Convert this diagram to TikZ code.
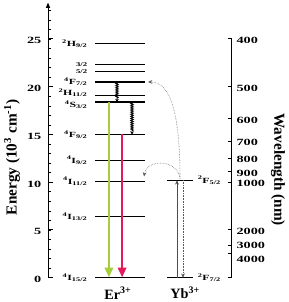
\documentclass[tikz,border=0pt]{standalone}
\usepackage{fontspec}
\setmainfont{Liberation Serif}
\newfontfamily\widefont[FakeStretch=1.5]{Liberation Serif}
\usetikzlibrary{arrows.meta,decorations.pathmorphing}
\definecolor{emgreen}{RGB}{166,206,57}
\definecolor{empink}{RGB}{229,24,90}
\newcommand{\term}[3]{\textsuperscript{#1}#2\textsubscript{#3}}
\begin{document}
\begin{tikzpicture}[x=1cm,y=0.3183cm,
  elev/.style={line width=1.3pt},
  axis/.style={line width=0.9pt},
  lab/.style={font=\widefont\fontsize{7.5}{8}\selectfont\bfseries,inner sep=1pt},
  ticklab/.style={font=\widefont\fontsize{9}{10}\selectfont\bfseries,inner sep=0.5pt},
  axtitle/.style={font=\fontsize{14.5}{16}\selectfont\bfseries,inner sep=0pt},
  ion/.style={font=\fontsize{13.5}{15}\selectfont\bfseries,inner sep=0pt},
  emit/.style={line width=1.6pt,-{Triangle[width=8pt,length=9pt]}},
  relax/.style={line width=0.9pt,decorate,decoration={snake,amplitude=1.1pt,segment length=2pt,post length=3pt},-{Stealth[length=3pt,width=3.5pt]}},
  transfer/.style={gray!70!black,line width=0.5pt,densely dotted,-{Stealth[length=4pt,width=3.5pt]}}]
  \useasboundingbox (0,-2.545) rectangle (9.6,29.08);
  % energy axis
  \draw[axis,-{Triangle[width=4pt,length=5pt]}] (1.6,0) -- (1.6,28.8);
  \foreach \e in {0,...,28}
    \draw[line width=0.5pt] (1.6,\e) -- ++(0.1,0);
  \foreach \e in {0,5,...,25} {
    \draw[axis] (1.6,\e) -- ++(0.15,0);
    \node[ticklab,anchor=east] (E\e) at (1.4,\e-0.2) {\e};
  }
  \node[axtitle,rotate=90] (etitle) at (0.4,12.6) {Energy (10\textsuperscript{3} cm\textsuperscript{-1})};
  % wavelength axis
  \draw[axis] (7.73,0) -- (7.73,25);
  \draw[axis] (7.73,0) -- ++(-0.12,0);
  \foreach \w/\s in {400/0,500/0,600/0,700/0,800/0,900/0,1000/0,2000/0,3000/0.25,4000/-0.45} {
    \pgfmathsetmacro\e{10000/\w}
    \draw[axis] (7.73,\e) -- ++(-0.13,0);
    \node[ticklab,anchor=west] (W\w) at (7.86,\e-0.15+\s) {\w};
  }
  \node[axtitle,rotate=-90] (wtitle) at (9.27,11.3) {Wavelength (nm)};
  % Er levels
  \foreach \e/\s/\t/\n in {24.5/0/{\term{2}{H}{9/2}}/H92, 22.3/0/{\fontsize{5.5}{6}\selectfont 3/2}/F32,
      21.6/0/{\fontsize{5.5}{6}\selectfont 5/2}/F52, 20.5/0/{\term{4}{F}{7/2}}/F72,
      19.1/0.3/{\term{2}{H}{11/2}}/H112, 18.4/-0.25/{\term{4}{S}{3/2}}/S32, 15.0/0/{\term{4}{F}{9/2}}/F92,
      12.3/0/{\term{4}{I}{9/2}}/I92, 10.1/0/{\term{4}{I}{11/2}}/I112, 6.4/0/{\term{4}{I}{13/2}}/I132,
      0/0/{\term{4}{I}{15/2}}/I152} {
    \draw[elev] (3.17,\e) coordinate (\n-l) -- (4.83,\e) coordinate (\n-r);
    \node[lab,anchor=east] (\n) at (2.95,\e+\s) {\t};
  }
  \node[ion] (er) at (3.93,-1.6) {Er\textsuperscript{3+}};
  % Yb levels
  \draw[elev] (5.57,10.2) coordinate (F52b-l) -- (6.43,10.2) coordinate (F52b-r);
  \draw[elev] (5.57,0) coordinate (F72b-l) -- (6.43,0) coordinate (F72b-r);
  \node[lab,anchor=west] (yb52) at (6.55,10.2) {\term{2}{F}{5/2}};
  \node[lab,anchor=west] (yb72) at (6.55,0) {\term{2}{F}{7/2}};
  \node[ion] (yb) at (6.17,-1.6) {Yb\textsuperscript{3+}};
  % transitions
  \coordinate (g1) at (3.63,18.4);
  \coordinate (g0) at (3.63,0.05);
  \coordinate (r1) at (4.07,15.0);
  \coordinate (r0) at (4.07,0.05);
  \draw[emit,emgreen] (g1) -- (g0);
  \draw[emit,empink] (r1) -- (r0);
  \draw[relax] (3.9,20.5) -- (3.9,18.4);
  \draw[relax] (4.4,18.4) -- (4.4,15.0);
  \coordinate (ya) at (5.9,0);
  \coordinate (yb1) at (5.9,10.2);
  \coordinate (yc) at (6.1,10.2);
  \coordinate (yc0) at (6.1,0);
  \draw[gray!60!black,line width=0.5pt,-{Stealth[length=4pt,width=3.5pt]}] (ya) -- (yb1);
  \draw[transfer] (yc) -- (yc0);
  \coordinate (ys) at (6.0,10.4);
  \draw[transfer] (ys) .. controls (6.0,17) and (5.7,20.5) .. ([xshift=3pt]F72-r);
  \draw[transfer] (ys) .. controls (5.92,12.4) and (4.9,12.5) .. (4.8,10.6);
\end{tikzpicture}
\end{document}
